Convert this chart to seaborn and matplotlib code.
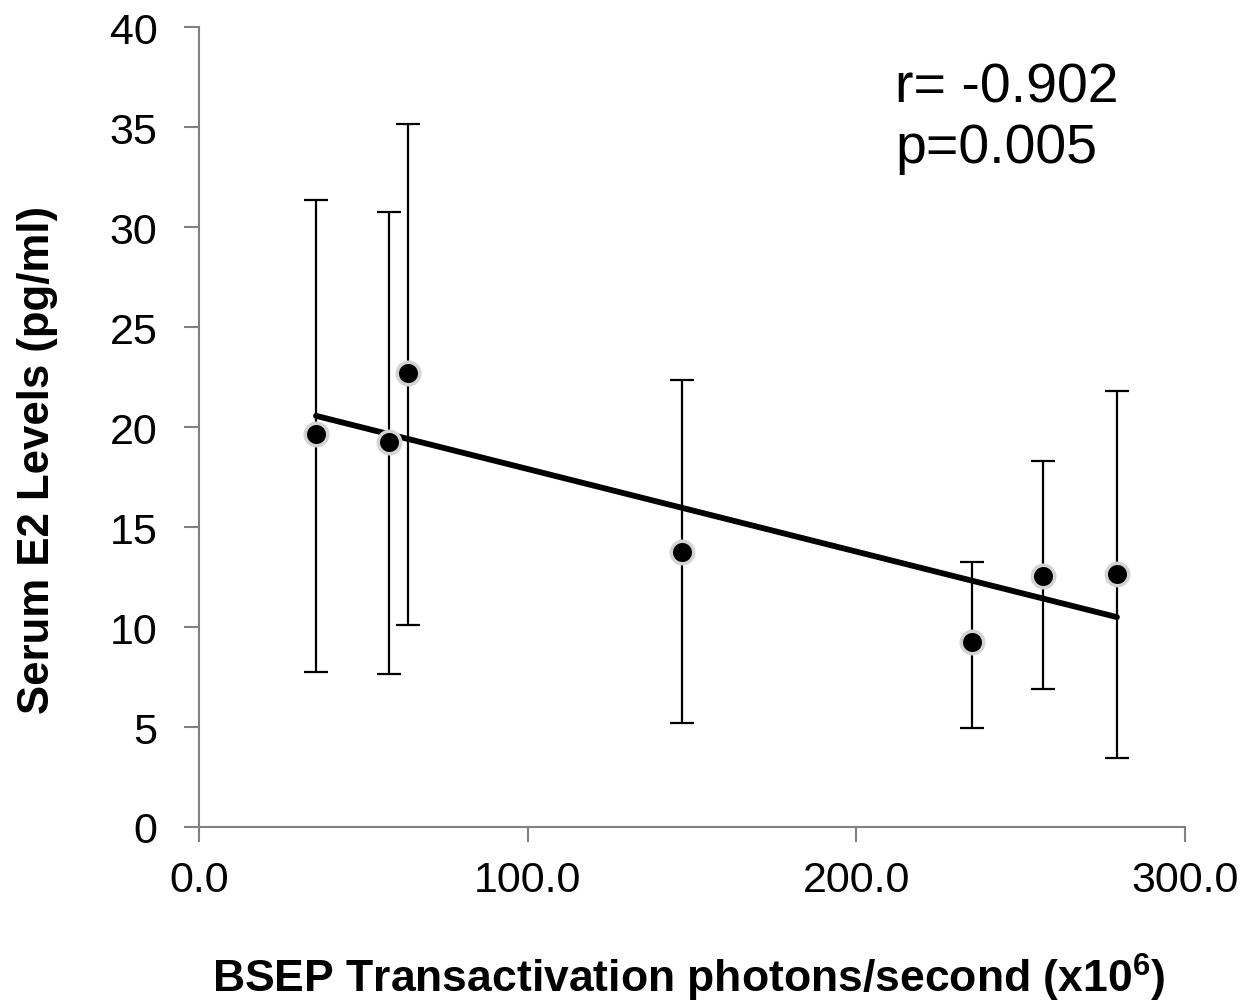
import numpy as np
import pandas as pd
import matplotlib
matplotlib.use("Agg")
import matplotlib.pyplot as plt
import seaborn as sns

# Data
bsep = [35.6, 57.8, 63.6, 146.9, 235.2, 256.8, 279.3]
e2 = [19.65, 19.25, 22.7, 13.75, 9.25, 12.55, 12.65]
err_top = [31.35, 30.75, 35.15, 22.35, 13.25, 18.3, 21.8]
err_bottom = [7.75, 7.65, 10.1, 5.2, 4.95, 6.9, 3.45]
x_ticks = [0, 100, 200, 300]
y_ticks = [0, 5, 10, 15, 20, 25, 30, 35, 40]
annotation = "r= -0.902\np=0.005"

df = pd.DataFrame({"bsep": bsep, "e2": e2})

sns.set_theme(style="white")
plt.rcParams['font.family'] = ['Liberation Sans', 'DejaVu Sans']
plt.rcParams['mathtext.fontset'] = 'custom'
plt.rcParams['mathtext.bf'] = 'Liberation Sans:bold'
plt.rcParams['mathtext.rm'] = 'Liberation Sans'

fig = plt.figure(figsize=(12.57, 10.04), dpi=100)
ax = fig.add_axes([0.1583, 0.1753, 0.7844, 0.7968])

yerr = np.array([np.array(e2) - np.array(err_bottom), np.array(err_top) - np.array(e2)])
ax.errorbar(bsep, e2, yerr=yerr, fmt='none', ecolor='black', elinewidth=1.6,
            capsize=8.5, capthick=1.6, zorder=2)

sns.regplot(data=df, x="bsep", y="e2", scatter=False, ci=None, truncate=True,
            line_kws=dict(color='black', lw=4.2, zorder=3), ax=ax)

sns.scatterplot(data=df, x="bsep", y="e2", ax=ax, s=262, color='black',
                edgecolor='#d4d4d4', linewidth=2.5, zorder=4)

ax.set_xlim(0, 300)
ax.set_ylim(0, 40)
ax.set_xticks(x_ticks)
ax.set_xticklabels([f"{v:.1f}" for v in x_ticks])
ax.set_yticks(y_ticks)
ax.set_yticklabels([str(v) for v in y_ticks])

for s in ['top', 'right']:
    ax.spines[s].set_visible(False)
for s in ['left', 'bottom']:
    ax.spines[s].set_color('#808080')
    ax.spines[s].set_linewidth(1.5)

ax.tick_params(axis='both', which='major', direction='out', length=11, width=1.5,
               color='#808080', labelsize=31, labelcolor='black',
               bottom=True, left=True)
ax.tick_params(axis='x', pad=13)
ax.tick_params(axis='y', pad=19)

ax.set_xlabel(r"BSEP Transactivation photons/second (x10$^{\mathbf{6}}$)", fontsize=32,
              fontweight='bold', color='black', va='baseline')
ax.xaxis.set_label_coords(0.497, -0.206)
ax.set_ylabel("Serum E2 Levels (pg/ml)", fontsize=31.5, fontweight='bold',
              color='black', va='center')
ax.yaxis.set_label_coords(-0.164, 0.46)

ax.text(0.706, 0.957, annotation, transform=ax.transAxes, fontsize=40,
        va='top', ha='left', linespacing=1.21, color='black')

fig.savefig("out.png", dpi=100, facecolor='white')
